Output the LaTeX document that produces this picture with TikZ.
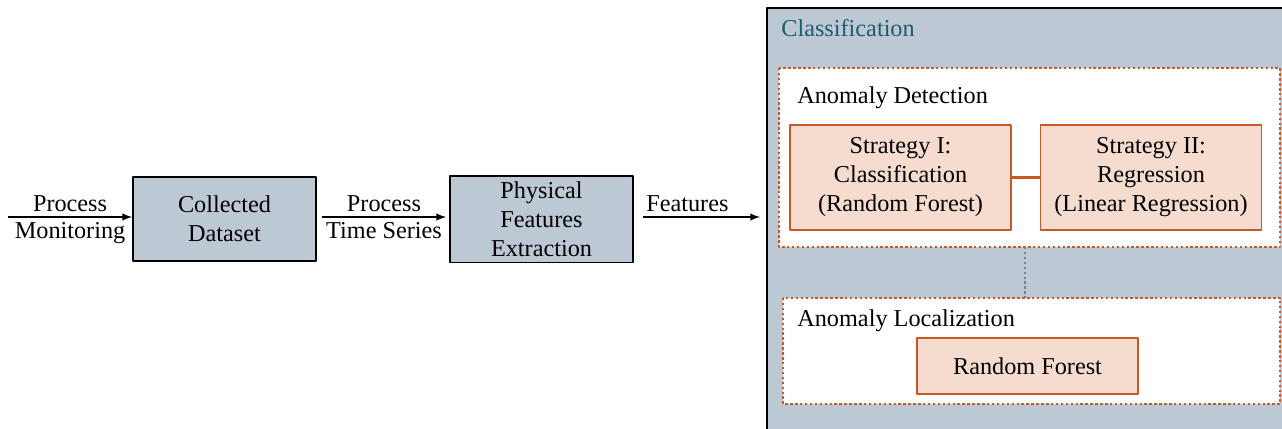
\documentclass[tikz,border=0pt]{standalone}
\usepackage{fontspec}
\setmainfont{Liberation Serif}
\usetikzlibrary{positioning}
\definecolor{panel}{HTML}{BCC8D3}
\definecolor{rust}{HTML}{C55A24}
\definecolor{peach}{HTML}{F5DCCF}
\definecolor{teal}{HTML}{1F5C6E}
\tikzset{
  stage/.style={draw=black, line width=1pt, fill=panel, minimum width=3.66cm, minimum height=1.68cm, align=center},
  method/.style={draw=rust, line width=1pt, fill=peach, minimum width=4.42cm, align=center},
  frame/.style={draw=rust, fill=white, line width=1.6pt, dash pattern=on 1.4pt off 1.4pt},
  lbl/.style={inner sep=2.8pt, align=center}
}
\begin{document}
\begin{tikzpicture}[font=\fontsize{13.8}{16.5}\selectfont, line join=round, >=latex]
  \useasboundingbox (0,0) rectangle (25.64,-8.56);
  % classification panel
  \fill[panel] (15.34,-0.16) rectangle (26,-9);
  \draw[line width=1.2pt] (15.34,-9) -- (15.34,-0.16) -- (26,-0.16);
  \node[anchor=west, text=teal, inner sep=0] (cls) at (15.62,-0.56) {Classification};
  \draw[frame] (15.58,-1.36) rectangle (25.6,-4.94);
  \draw[frame] (15.66,-5.96) rectangle (25.6,-8.08);
  \node[anchor=west, inner sep=0] (det) at (15.94,-1.96) {Anomaly Detection};
  \node[anchor=west, inner sep=0] (loc) at (15.94,-6.42) {Anomaly Localization};
  \coordinate (dtop) at (20.5,-4.94);
  \coordinate (dbot) at (20.5,-5.96);
  \draw[gray, line width=1.6pt, dash pattern=on 1.4pt off 1.4pt] (dtop) -- (dbot);
  % methods
  \node[method, minimum height=2.1cm] (s1) at (18.01,-3.55) {Strategy I:\\Classification\\(Random Forest)};
  \node[method, minimum height=2.1cm] (s2) at (23.02,-3.55) {Strategy II:\\Regression\\(Linear Regression)};
  \node[method, minimum height=1.12cm] (rf) at (20.55,-7.32) {Random Forest};
  \draw[rust, line width=1.2pt] (s1) -- (s2);
  % pipeline
  \node[stage] (data) at (4.49,-4.38) {Collected\\Dataset};
  \node[stage] (phys) at (10.83,-4.38) {Physical\\Features\\Extraction};
  \coordinate (in) at (0.16,-4.34);
  \coordinate (out) at (15.2,-4.34);
  \draw[->, line width=0.9pt] (in) -- (in -| data.west) node[midway, above, lbl] {Process} node[midway, below, lbl] {Monitoring};
  \draw[->, line width=0.9pt] ([xshift=1mm]data.east |- in) -- ([xshift=-0.6mm]phys.west |- in) node[midway, above, lbl] {Process} node[midway, below, lbl] {Time Series};
  \draw[->, line width=0.9pt] ([xshift=1.8mm]phys.east |- in) -- (out) node[pos=0.38, above, lbl] {Features};
\end{tikzpicture}
\end{document}
